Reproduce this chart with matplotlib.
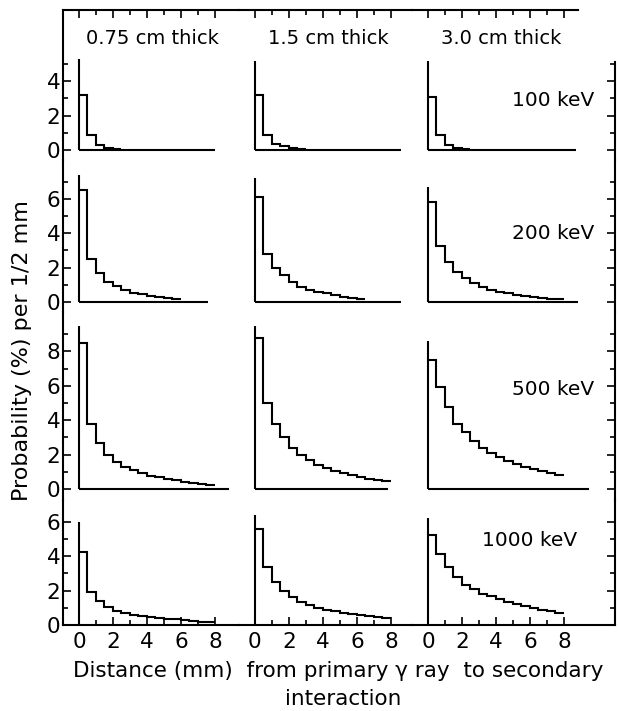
import numpy as np
import matplotlib
matplotlib.use("Agg")
import matplotlib.pyplot as plt

# probability (%) per 1/2 mm bin
# rows: 100, 200, 500, 1000 keV ; columns: 0.75, 1.5, 3.0 cm thick
p100_t075 = [3.2, 0.9, 0.3, 0.1, 0.04]
p100_t15 = [3.2, 0.85, 0.33, 0.22, 0.12, 0.05]
p100_t30 = [3.1, 0.85, 0.3, 0.1, 0.03]

p200_t075 = [6.5, 2.5, 1.7, 1.15, 0.92, 0.7, 0.55, 0.45, 0.36, 0.28, 0.22, 0.16]
p200_t15 = [6.1, 2.8, 2.0, 1.55, 1.15, 0.9, 0.7, 0.6, 0.5, 0.4, 0.32, 0.25, 0.2]
p200_t30 = [5.8, 3.25, 2.35, 1.75, 1.37, 1.08, 0.88, 0.72, 0.6, 0.5, 0.42,
            0.35, 0.29, 0.24, 0.2, 0.16]

p500_t075 = [8.5, 3.75, 2.65, 1.95, 1.55, 1.3, 1.08, 0.9, 0.78, 0.67, 0.57,
             0.5, 0.42, 0.36, 0.3, 0.25]
p500_t15 = [8.8, 5.0, 3.8, 3.0, 2.4, 2.0, 1.67, 1.42, 1.22, 1.05, 0.92,
            0.8, 0.7, 0.6, 0.52, 0.45]
p500_t30 = [7.5, 5.95, 4.75, 3.8, 3.3, 2.8, 2.4, 2.08, 1.83, 1.63, 1.47,
            1.3, 1.18, 1.06, 0.94, 0.83]

p1000_t075 = [4.27, 1.9, 1.38, 1.06, 0.84, 0.71, 0.6, 0.52, 0.46, 0.41, 0.36,
              0.32, 0.28, 0.24, 0.2, 0.16]
p1000_t15 = [5.6, 3.35, 2.5, 2.0, 1.62, 1.35, 1.15, 1.0, 0.9, 0.81, 0.72,
             0.64, 0.57, 0.5, 0.44, 0.38]
p1000_t30 = [5.25, 4.15, 3.35, 2.8, 2.35, 2.08, 1.83, 1.67, 1.5, 1.35, 1.23,
             1.1, 0.98, 0.88, 0.79, 0.68]

thickness = ["0.75 cm thick", "1.5 cm thick", "3.0 cm thick"]
energies = ["100 keV", "200 keV", "500 keV", "1000 keV"]
bin_width = 0.5

grid = [[p100_t075, p100_t15, p100_t30],
        [p200_t075, p200_t15, p200_t30],
        [p500_t075, p500_t15, p500_t30],
        [p1000_t075, p1000_t15, p1000_t30]]

# drawn y-axis line height and baseline length in each panel
axis_tops = [[5.3, 5.2, 5.2], [7.4, 7.2, 6.7], [9.5, 9.5, 8.6], [6.0, 6.4, 6.2]]
base_ends = [[8.0, 8.6, 8.7], [7.6, 8.6, 8.8], [8.8, 7.8, 9.5], [None, None, None]]
ytick_max = [5, 7, 9, 6]

col_xlims = [(-0.94, 9.41), (-0.94, 9.24), (-0.94, 11.0)]
row_ylims = [(-0.58, 8.14), (-0.58, 8.26), (-0.64, 10.29), (0, 7.27)]
label_pos = [(9.8, 2.9), (9.8, 4.0), (9.8, 5.8), (8.8, 4.9)]

fig = plt.figure(figsize=(6.18, 7.11), dpi=100)
gs = fig.add_gridspec(4, 3, left=63/618, right=615/618, top=1-10/711,
                      bottom=1-625/711, wspace=0, hspace=0,
                      width_ratios=[b - a for a, b in col_xlims],
                      height_ratios=[b - a for a, b in row_ylims])

lw = 1.5
for r in range(4):
    for c in range(3):
        ax = fig.add_subplot(gs[r, c])
        ax.set_xlim(col_xlims[c])
        ax.set_ylim(row_ylims[r])
        ax.patch.set_visible(False)
        ax.spines['left'].set_visible(c == 0)
        ax.spines['right'].set_visible(c == 2)
        ax.spines['top'].set_visible(r == 0)
        ax.spines['bottom'].set_visible(r == 3)
        for s in ax.spines.values():
            s.set_linewidth(lw)
        if r == 0 and c == 2:
            ax.spines['top'].set_bounds(col_xlims[2][0], 8.8)
            ax.spines['right'].set_bounds(row_ylims[0][0], 5.1)

        vals = grid[r][c]
        edges = np.arange(len(vals) + 1) * bin_width
        ax.stairs(vals, edges, baseline=None, color='black', lw=lw)
        ax.plot([0, 0], [0, axis_tops[r][c]], color='black', lw=lw,
                solid_capstyle='butt')
        if base_ends[r][c] is not None:
            ax.plot([0, base_ends[r][c]], [0, 0], color='black', lw=lw,
                    solid_capstyle='butt')

        ax.set_xticks([0, 2, 4, 6, 8])
        ax.set_xticks([1, 3, 5, 7], minor=True)
        ax.set_yticks(list(range(0, ytick_max[r] + 1, 2)))
        ax.set_yticks(list(range(1, ytick_max[r] + 1, 2)), minor=True)
        ax.tick_params(which='both', direction='in', width=1.2,
                       left=(c == 0), right=(c == 2), top=(r == 0), bottom=(r == 3),
                       labelleft=(c == 0), labelright=False,
                       labeltop=False, labelbottom=(r == 3))
        ax.tick_params(which='major', length=6)
        ax.tick_params(which='minor', length=3.5)
        ax.tick_params(axis='x', labelsize=15.5, pad=5)
        ax.tick_params(axis='y', labelsize=15.5, pad=2)

        if r == 0:
            ax.text(4.3, 6.5, thickness[c], ha='center', va='center', fontsize=14)
        if c == 2:
            x, y = label_pos[r]
            ax.text(x, y, energies[r], ha='right', va='center', fontsize=14.5)

fig.text(22/618, 1-351/711, "Probability (%) per 1/2 mm", rotation=90,
         ha='center', va='center', fontsize=16)
fig.text(338/618, 1-671/711, "Distance (mm)  from primary \u03b3 ray  to secondary",
         ha='center', va='center', fontsize=15.5)
fig.text(343/618, 1-699/711, "interaction", ha='center', va='center', fontsize=15.5)

fig.savefig("out.png", dpi=100)
